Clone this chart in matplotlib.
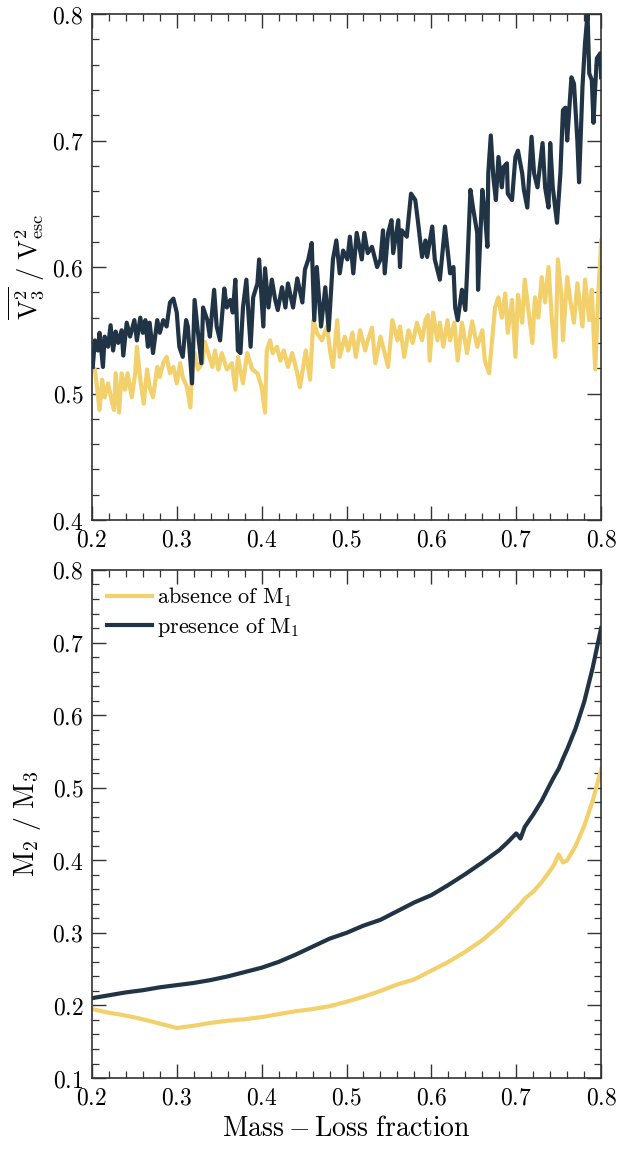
import matplotlib
matplotlib.use("Agg")
import matplotlib.pyplot as plt
from matplotlib.ticker import MultipleLocator, FuncFormatter

plt.rcParams['mathtext.fontset'] = 'cm'
plt.rcParams['font.family'] = ['DejaVu Serif']

# ---------------- data: top panel (V3^2 / Vesc^2) ----------------
top_pres_x = [0.201,0.2035,0.207,0.209,0.213,0.215,0.219,0.222,0.225,0.228,0.231,0.235,0.237,0.241,0.245,0.250,0.253,0.257,0.260,0.263,0.266,0.268,0.272,0.277,0.280,0.284,0.288,0.292,0.296,0.300,0.303,0.307,0.311,0.313,0.318,0.321,0.325,0.329,0.331,0.336,0.339,0.344,0.347,0.351,0.356,0.359,0.363,0.366,0.369,0.372,0.375,0.378,0.382,0.384,0.387,0.390,0.395,0.397,0.402,0.404,0.408,0.412,0.416,0.419,0.424,0.428,0.431,0.437,0.442,0.448,0.451,0.455,0.459,0.462,0.465,0.470,0.475,0.479,0.484,0.488,0.492,0.496,0.501,0.504,0.508,0.512,0.518,0.521,0.525,0.530,0.536,0.540,0.543,0.545,0.549,0.553,0.555,0.561,0.563,0.565,0.571,0.576,0.581,0.584,0.589,0.593,0.595,0.601,0.604,0.610,0.616,0.620,0.622,0.626,0.628,0.631,0.636,0.640,0.642,0.646,0.649,0.654,0.655,0.660,0.663,0.666,0.667,0.670,0.673,0.676,0.679,0.683,0.685,0.689,0.690,0.695,0.699,0.702,0.707,0.709,0.713,0.718,0.721,0.725,0.731,0.734,0.738,0.740,0.743,0.748,0.752,0.755,0.758,0.760,0.765,0.768,0.772,0.774,0.778,0.781,0.784,0.786,0.789,0.791,0.793,0.795,0.799,0.800]
top_pres_y = [0.521,0.542,0.534,0.548,0.521,0.545,0.537,0.554,0.534,0.549,0.540,0.550,0.530,0.556,0.545,0.558,0.542,0.560,0.548,0.558,0.537,0.556,0.532,0.558,0.548,0.558,0.553,0.572,0.575,0.564,0.537,0.529,0.558,0.553,0.508,0.574,0.548,0.524,0.568,0.558,0.545,0.582,0.553,0.542,0.583,0.568,0.574,0.564,0.590,0.534,0.532,0.568,0.590,0.568,0.537,0.576,0.587,0.606,0.553,0.599,0.568,0.590,0.574,0.566,0.584,0.568,0.587,0.568,0.591,0.572,0.598,0.606,0.619,0.558,0.600,0.553,0.584,0.550,0.606,0.621,0.595,0.613,0.606,0.624,0.595,0.627,0.606,0.627,0.611,0.616,0.600,0.606,0.629,0.595,0.627,0.637,0.611,0.637,0.600,0.629,0.624,0.658,0.653,0.637,0.608,0.621,0.608,0.632,0.606,0.590,0.632,0.608,0.595,0.600,0.568,0.558,0.582,0.566,0.595,0.661,0.647,0.627,0.582,0.661,0.643,0.616,0.674,0.704,0.671,0.653,0.687,0.663,0.679,0.682,0.658,0.653,0.687,0.692,0.674,0.661,0.647,0.703,0.674,0.663,0.698,0.663,0.647,0.698,0.663,0.635,0.674,0.724,0.726,0.700,0.750,0.745,0.700,0.667,0.742,0.777,0.800,0.753,0.748,0.714,0.742,0.765,0.769,0.750]

top_abs_x = [0.200,0.2035,0.206,0.209,0.212,0.215,0.219,0.224,0.226,0.228,0.232,0.235,0.239,0.242,0.247,0.251,0.253,0.257,0.261,0.265,0.268,0.272,0.277,0.280,0.284,0.288,0.292,0.296,0.300,0.304,0.307,0.312,0.316,0.318,0.321,0.325,0.330,0.333,0.337,0.342,0.345,0.349,0.353,0.359,0.365,0.369,0.372,0.378,0.383,0.389,0.395,0.400,0.404,0.406,0.410,0.413,0.418,0.422,0.426,0.431,0.436,0.442,0.445,0.449,0.452,0.457,0.461,0.465,0.471,0.477,0.481,0.484,0.489,0.492,0.498,0.502,0.507,0.511,0.516,0.522,0.525,0.530,0.534,0.540,0.545,0.549,0.554,0.560,0.563,0.568,0.573,0.578,0.583,0.589,0.593,0.596,0.598,0.602,0.607,0.610,0.614,0.619,0.622,0.627,0.631,0.636,0.642,0.648,0.654,0.660,0.663,0.668,0.673,0.675,0.679,0.683,0.687,0.690,0.695,0.699,0.702,0.707,0.710,0.714,0.719,0.722,0.726,0.730,0.734,0.738,0.742,0.746,0.749,0.753,0.755,0.760,0.764,0.768,0.772,0.778,0.781,0.786,0.789,0.793,0.797,0.799,0.800]
top_abs_y = [0.522,0.519,0.505,0.487,0.511,0.497,0.508,0.492,0.487,0.516,0.485,0.516,0.503,0.516,0.497,0.516,0.537,0.511,0.492,0.519,0.505,0.497,0.521,0.513,0.524,0.529,0.516,0.521,0.508,0.524,0.513,0.505,0.489,0.519,0.532,0.519,0.524,0.541,0.532,0.521,0.534,0.519,0.532,0.519,0.524,0.503,0.529,0.508,0.532,0.519,0.516,0.505,0.485,0.534,0.542,0.532,0.537,0.526,0.534,0.521,0.532,0.516,0.505,0.521,0.534,0.511,0.558,0.548,0.542,0.553,0.532,0.521,0.558,0.529,0.545,0.534,0.548,0.529,0.550,0.534,0.542,0.552,0.524,0.545,0.532,0.521,0.558,0.542,0.553,0.529,0.550,0.540,0.556,0.542,0.558,0.562,0.526,0.564,0.542,0.556,0.537,0.558,0.542,0.556,0.526,0.556,0.532,0.557,0.537,0.550,0.526,0.516,0.553,0.568,0.576,0.560,0.579,0.548,0.574,0.529,0.578,0.556,0.590,0.568,0.540,0.576,0.560,0.592,0.572,0.600,0.558,0.529,0.606,0.579,0.542,0.592,0.572,0.556,0.587,0.553,0.590,0.558,0.582,0.519,0.584,0.606,0.621]

# ---------------- data: bottom panel (M2 / M3) ----------------
bot_x = [0.20,0.22,0.24,0.26,0.28,0.30,0.32,0.34,0.36,0.38,0.40,0.42,0.44,0.46,0.48,0.50,0.52,0.54,0.56,0.58,0.60,0.62,0.64,0.66,0.68,0.69,0.70,0.705,0.71,0.72,0.73,0.74,0.745,0.75,0.755,0.76,0.77,0.78,0.79,0.80]
bot_pres = [0.210,0.214,0.218,0.221,0.225,0.228,0.231,0.235,0.240,0.246,0.252,0.260,0.270,0.281,0.292,0.300,0.310,0.318,0.330,0.342,0.352,0.366,0.381,0.397,0.414,0.425,0.437,0.430,0.446,0.463,0.482,0.505,0.516,0.526,0.540,0.553,0.582,0.618,0.665,0.720]
bot_abs = [0.195,0.190,0.186,0.181,0.175,0.169,0.172,0.176,0.179,0.181,0.184,0.188,0.192,0.195,0.199,0.205,0.212,0.220,0.229,0.236,0.248,0.260,0.274,0.290,0.310,0.322,0.334,0.340,0.347,0.357,0.370,0.386,0.395,0.408,0.397,0.400,0.420,0.447,0.482,0.525]

yellow = '#f2d06c'
dark = '#203445'

fig = plt.figure(figsize=(6.21, 11.51), dpi=100)
ax1 = fig.add_axes([0.148, 0.5482, 0.820, 0.4396])
ax2 = fig.add_axes([0.148, 0.0634, 0.820, 0.4414])

fmt = FuncFormatter(lambda v, p: r'$%.1f$' % v)

def style(ax, ylo, yhi):
    ax.set_xlim(0.2, 0.8)
    ax.set_ylim(ylo, yhi)
    ax.xaxis.set_major_locator(MultipleLocator(0.1))
    ax.xaxis.set_minor_locator(MultipleLocator(0.02))
    ax.yaxis.set_major_locator(MultipleLocator(0.1))
    ax.yaxis.set_minor_locator(MultipleLocator(0.02))
    ax.xaxis.set_major_formatter(fmt)
    ax.yaxis.set_major_formatter(fmt)
    ax.tick_params(which='both', direction='in', top=True, right=True, color='#333333')
    ax.tick_params(which='major', length=10, width=1.0, labelsize=17, pad=6)
    ax.tick_params(which='minor', length=5, width=0.9)
    for s in ax.spines.values():
        s.set_linewidth(1.2)
        s.set_color('#333333')

ax1.plot(top_abs_x, top_abs_y, color=yellow, lw=3.0, solid_joinstyle='round', zorder=2)
ax1.plot(top_pres_x, top_pres_y, color=dark, lw=3.0, solid_joinstyle='round', zorder=3)
style(ax1, 0.4, 0.8)
ax1.set_ylabel(r'$\overline{\mathrm{V}_3^2}\ /\ \mathrm{V}^2_{\mathrm{esc}}$', fontsize=19, labelpad=4)

ax2.plot(bot_x, bot_abs, color=yellow, lw=3.0, label=r'$\mathrm{absence\ of\ M_1}$')
ax2.plot(bot_x, bot_pres, color=dark, lw=3.0, label=r'$\mathrm{presence\ of\ M_1}$')
style(ax2, 0.1, 0.8)
ax2.set_ylabel(r'$\mathrm{M_2\ /\ M_3}$', fontsize=20, labelpad=6)
ax2.set_xlabel(r'$\mathrm{Mass-Loss\ fraction}$', fontsize=20, labelpad=4)
ax2.legend(loc='upper left', frameon=False, fontsize=16, handlelength=2.0,
           handletextpad=0.25, borderaxespad=0.4, borderpad=0.3, labelspacing=0.3)

fig.savefig('out.png', dpi=100)
